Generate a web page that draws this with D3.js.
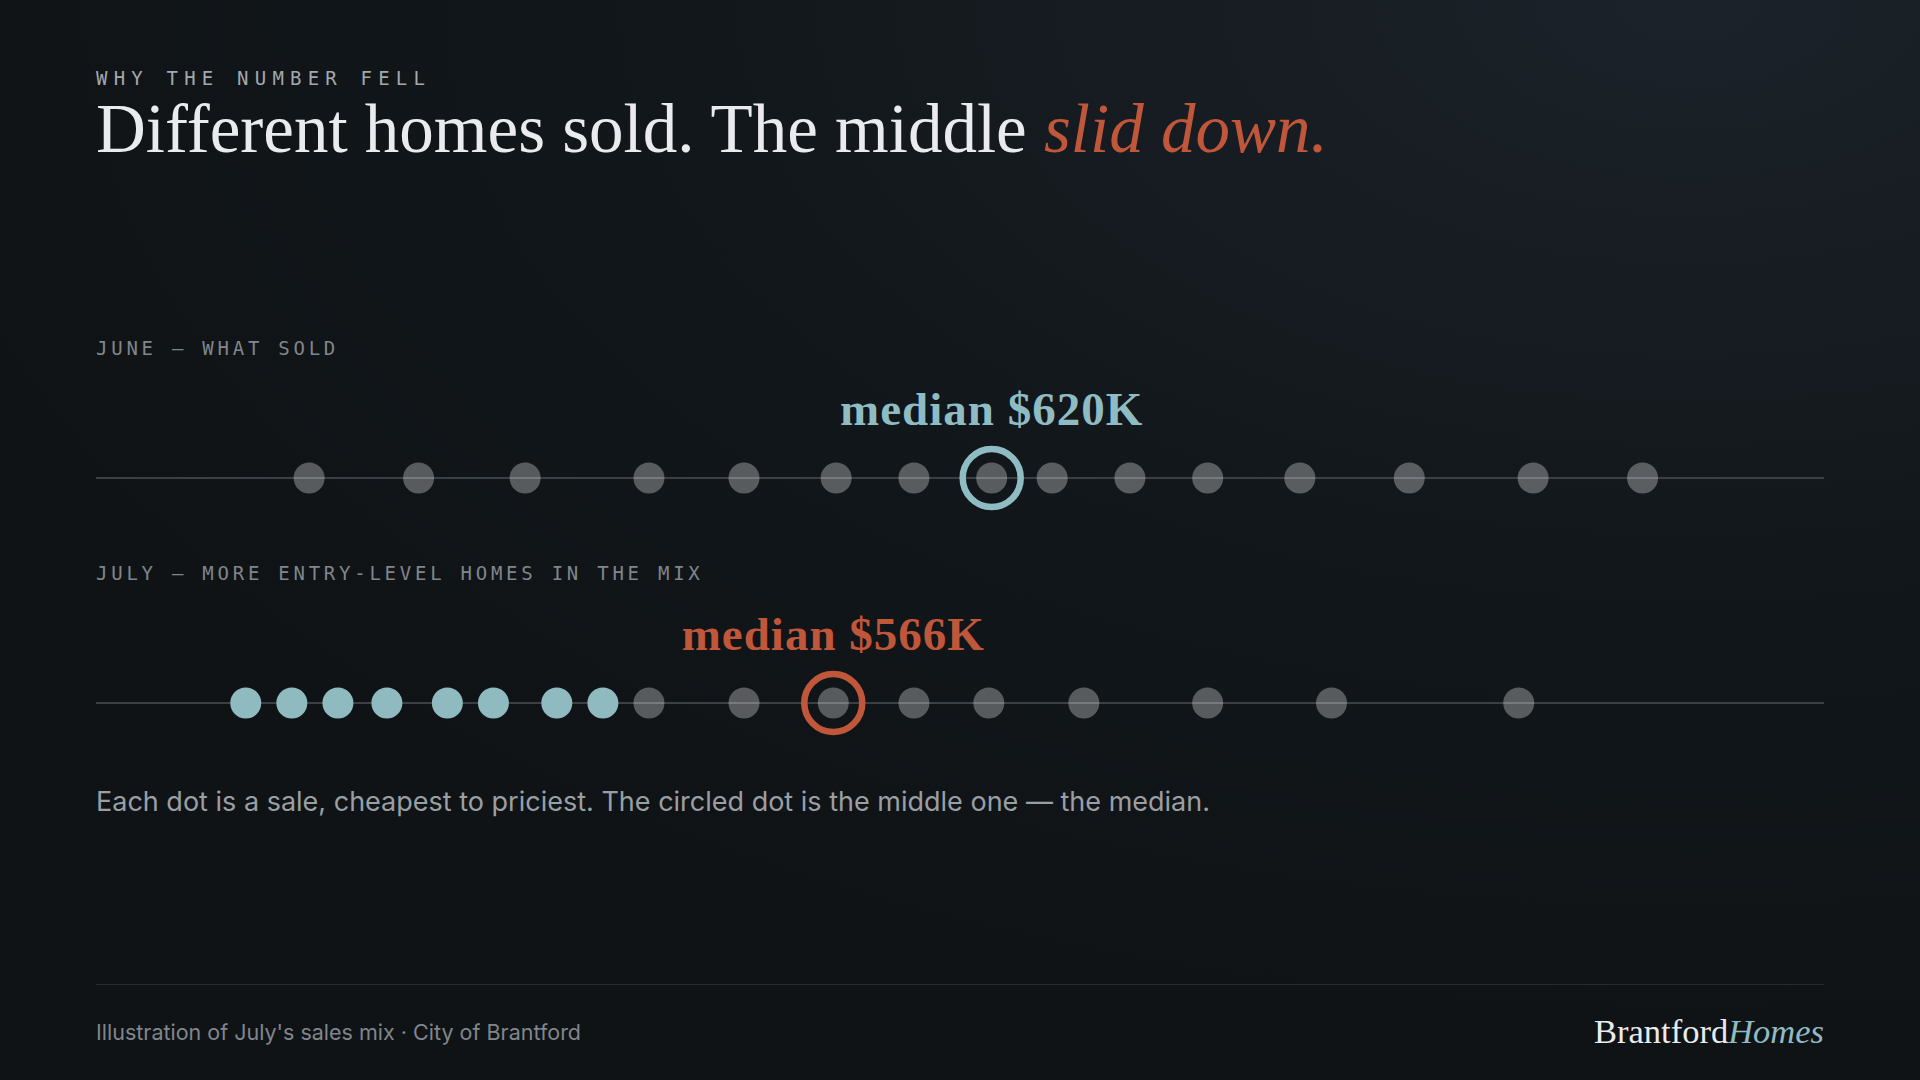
<!DOCTYPE html>
<html>
<head>
<meta charset="utf-8">
<script src="https://cdn.jsdelivr.net/npm/d3@7"></script>
<style>
  html, body { margin: 0; padding: 0; background: #101417; }
  svg { display: block; }
</style>
</head>
<body>
<div id="chart"></div>
<script>
// sale prices in $K, cheapest to priciest
var juneSales = [384, 422, 459, 502, 535, 567, 594, 621, 642, 669, 696, 728, 766, 809, 847];
var julyEntryLevel = [362, 378, 394, 411, 432, 448, 470, 486];
var julyOther = [502, 535, 566, 594, 620, 653, 696, 739, 804];
var juneMedian = 621;
var julyMedian = 566;
var juneMedianLabel = "$620K";
var julyMedianLabel = "$566K";
var priceDomain = [310, 910];

var rows = [
  {label: "JUNE \u2014 WHAT SOLD", median: juneMedian, medianLabel: juneMedianLabel, colour: "#8fbcc3",
   dots: juneSales.map(function(d) { return {v: d, entry: false}; })},
  {label: "JULY \u2014 MORE ENTRY-LEVEL HOMES IN THE MIX", median: julyMedian, medianLabel: julyMedianLabel, colour: "#c0573b",
   dots: julyEntryLevel.map(function(d) { return {v: d, entry: true}; })
           .concat(julyOther.map(function(d) { return {v: d, entry: false}; }))}
];

var W = 1920, H = 1080;
var left = 96, right = 1824;
var MONO = "'DejaVu Sans Mono', 'Liberation Mono', monospace";
var SERIF = "'Liberation Serif', 'DejaVu Serif', serif";
var SANS = "Inter, 'Noto Sans', sans-serif";

var svg = d3.select("#chart")
  .append("svg")
    .attr("width", W)
    .attr("height", H);

// background glow, lighter towards the top right
var defs = svg.append("defs");
var grad = defs.append("radialGradient")
    .attr("id", "bg")
    .attr("cx", "88%").attr("cy", "0%").attr("r", "95%");
grad.append("stop").attr("offset", "0%").attr("stop-color", "#1b2229");
grad.append("stop").attr("offset", "55%").attr("stop-color", "#12171b");
grad.append("stop").attr("offset", "100%").attr("stop-color", "#0f1316");
svg.append("rect")
    .attr("width", W).attr("height", H)
    .attr("fill", "url(#bg)");

// header
svg.append("text")
    .attr("x", left).attr("y", 85)
    .attr("font-family", MONO)
    .attr("font-size", 19)
    .attr("letter-spacing", 6.2)
    .attr("fill", "#a3a8ad")
    .text("WHY THE NUMBER FELL");

var title = svg.append("text")
    .attr("x", left).attr("y", 152)
    .attr("font-family", SERIF)
    .attr("font-size", 69)
    .attr("fill", "#e9ebee");
title.append("tspan").text("Different homes sold. The middle ");
title.append("tspan")
    .attr("font-style", "italic")
    .attr("fill", "#c0573b")
    .text("slid down.");

var x = d3.scaleLinear()
    .domain(priceDomain)
    .range([left, right]);

var rowY = [478, 703];

rows.forEach(function(row, i) {
  var y = rowY[i];
  var g = svg.append("g");

  g.append("text")
      .attr("x", left).attr("y", y - 123)
      .attr("font-family", MONO)
      .attr("font-size", 19)
      .attr("letter-spacing", 3.75)
      .attr("fill", "#80868b")
      .text(row.label);

  // baseline rule
  g.append("line")
      .attr("x1", x.range()[0]).attr("x2", x.range()[1])
      .attr("y1", y).attr("y2", y)
      .attr("stroke", "#3b4045")
      .attr("stroke-width", 2);

  // one dot per sale
  g.selectAll("circle.sale")
    .data(row.dots)
    .enter()
    .append("circle")
      .attr("class", "sale")
      .attr("cx", function(d) { return x(d.v); })
      .attr("cy", y)
      .attr("r", 15.5)
      .attr("fill", function(d) { return d.entry ? "#8fbbc0" : "rgba(255,255,255,0.3)"; });

  // ring on the median
  g.append("circle")
      .attr("cx", x(row.median))
      .attr("cy", y)
      .attr("r", 29)
      .attr("fill", "none")
      .attr("stroke", row.colour)
      .attr("stroke-width", 6.5);

  g.append("text")
      .attr("x", x(row.median)).attr("y", y - 53)
      .attr("text-anchor", "middle")
      .attr("font-family", SERIF)
      .attr("font-weight", 700)
      .attr("font-size", 47)
      .attr("letter-spacing", 1)
      .attr("fill", row.colour)
      .text("median " + row.medianLabel);
});

svg.append("text")
    .attr("x", left).attr("y", 811)
    .attr("font-family", SANS)
    .attr("font-size", 27)
    .attr("fill", "#9a9fa4")
    .text("Each dot is a sale, cheapest to priciest. The circled dot is the middle one \u2014 the median.");

// footer
svg.append("line")
    .attr("x1", left).attr("x2", right)
    .attr("y1", 984.5).attr("y2", 984.5)
    .attr("stroke", "#262b30")
    .attr("stroke-width", 1);

svg.append("text")
    .attr("x", left).attr("y", 1040)
    .attr("font-family", SANS)
    .attr("font-size", 21.5)
    .attr("fill", "#80868b")
    .text("Illustration of July's sales mix \u00b7 City of Brantford");

var brand = svg.append("text")
    .attr("x", right).attr("y", 1043)
    .attr("text-anchor", "end")
    .attr("font-family", SERIF)
    .attr("font-size", 34.5)
    .attr("fill", "#e9ebee");
brand.append("tspan").text("Brantford");
brand.append("tspan")
    .attr("font-style", "italic")
    .attr("fill", "#8fbcc3")
    .text("Homes");
</script>
</body>
</html>
